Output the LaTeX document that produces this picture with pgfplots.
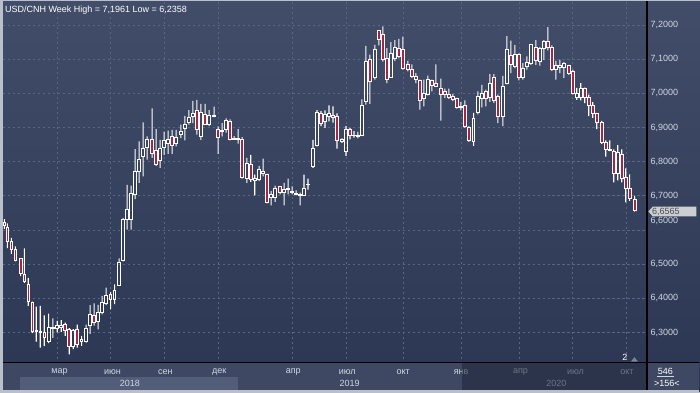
\documentclass[border=0pt]{standalone}
\usepackage{pgfplots}
\pgfplotsset{compat=1.18}
\usepackage{pgfplotstable}
\usepackage{fontspec}
\setmainfont{Liberation Sans}

\definecolor{bgtop}{RGB}{66,78,105}
\definecolor{bgbot}{RGB}{43,55,82}
\definecolor{gridc}{RGB}{88,102,132}
\definecolor{redc}{RGB}{168,36,68}
\definecolor{band}{RGB}{62,72,98}
\definecolor{band18}{RGB}{82,94,121}
\definecolor{lbl}{RGB}{208,215,228}
\definecolor{framec}{RGB}{185,192,204}
\definecolor{boxc}{RGB}{205,206,212}
\definecolor{dimc}{RGB}{28,36,56}

\pgfplotstableread{
x o h l c
4.3 6.622 6.632 6.603 6.612
7.3 6.606 6.619 6.547 6.567
11.3 6.565 6.577 6.530 6.542
15.3 6.542 6.552 6.508 6.511
20.7 6.516 6.516 6.465 6.473
24.3 6.470 6.546 6.445 6.450
28.3 6.440 6.460 6.378 6.390
32.3 6.387 6.390 6.298 6.302
36.3 6.304 6.376 6.273 6.305
40.3 6.304 6.378 6.256 6.300
44.3 6.300 6.350 6.261 6.285
48.7 6.273 6.355 6.269 6.316
53.0 6.313 6.341 6.284 6.315
57.3 6.313 6.334 6.300 6.320
61.3 6.316 6.336 6.302 6.322
65.3 6.323 6.329 6.290 6.305
69.3 6.308 6.313 6.2358 6.259
73.3 6.259 6.310 6.251 6.305
77.3 6.310 6.323 6.256 6.264
81.7 6.273 6.290 6.261 6.281
86.3 6.273 6.323 6.270 6.313
90.3 6.320 6.380 6.296 6.353
94.3 6.351 6.385 6.320 6.329
98.3 6.331 6.381 6.309 6.358
102.3 6.358 6.407 6.353 6.389
106.3 6.386 6.431 6.380 6.409
110.7 6.412 6.418 6.368 6.397
114.7 6.397 6.441 6.383 6.423
119.3 6.439 6.517 6.438 6.504
123.3 6.511 6.635 6.508 6.632
127.3 6.630 6.732 6.601 6.659
131.3 6.632 6.730 6.601 6.708
135.3 6.705 6.837 6.690 6.770
139.3 6.772 6.859 6.738 6.806
143.3 6.816 6.915 6.757 6.840
147.3 6.842 6.874 6.806 6.866
152.3 6.866 6.956 6.811 6.825
156.3 6.833 6.895 6.788 6.793
160.3 6.803 6.864 6.782 6.840
164.3 6.842 6.888 6.820 6.861
168.3 6.854 6.891 6.823 6.864
172.3 6.874 6.893 6.823 6.847
176.3 6.854 6.893 6.845 6.871
181.0 6.879 6.908 6.869 6.888
185.0 6.898 6.934 6.862 6.910
189.0 6.915 6.951 6.908 6.929
193.0 6.932 6.978 6.913 6.942
197.0 6.949 6.981 6.879 6.893
201.0 6.874 6.969 6.864 6.945
205.3 6.939 6.969 6.908 6.910
209.3 6.908 6.951 6.905 6.934
214.3 6.932 6.961 6.930 6.935
218.3 6.893 6.903 6.823 6.872
222.3 6.889 6.913 6.874 6.891
226.3 6.893 6.927 6.885 6.922
230.3 6.919 6.924 6.862 6.866
234.3 6.869 6.875 6.864 6.866
238.3 6.868 6.895 6.853 6.864
242.3 6.864 6.872 6.750 6.754
247.0 6.750 6.811 6.738 6.796
251.0 6.793 6.820 6.741 6.748
255.0 6.745 6.762 6.701 6.752
259.3 6.748 6.788 6.743 6.777
263.3 6.770 6.809 6.757 6.765
267.3 6.762 6.765 6.678 6.682
271.3 6.694 6.714 6.672 6.704
275.3 6.694 6.730 6.682 6.723
280.3 6.726 6.728 6.704 6.709
284.3 6.709 6.738 6.672 6.720
288.3 6.720 6.750 6.704 6.721
292.3 6.714 6.728 6.704 6.709
296.3 6.707 6.716 6.701 6.705
300.3 6.705 6.709 6.672 6.702
304.3 6.701 6.762 6.700 6.723
308.3 6.732 6.750 6.718 6.733
313.3 6.786 6.864 6.782 6.840
317.3 6.848 6.951 6.845 6.945
321.3 6.941 6.948 6.904 6.911
325.3 6.917 6.950 6.899 6.938
329.3 6.933 6.965 6.918 6.941
333.3 6.935 6.962 6.914 6.928
337.3 6.931 6.941 6.838 6.862
342.3 6.865 6.868 6.855 6.858
346.3 6.829 6.904 6.817 6.894
350.3 6.894 6.899 6.865 6.878
354.3 6.878 6.889 6.870 6.877
358.3 6.876 6.887 6.868 6.874
362.3 6.878 6.982 6.875 6.964
366.3 6.975 7.139 6.967 7.093
370.3 7.098 7.113 6.969 7.035
375.3 7.045 7.142 7.040 7.127
379.3 7.183 7.185 7.140 7.158
383.3 7.173 7.1961 7.093 7.098
387.3 7.103 7.132 7.030 7.040
391.3 7.047 7.150 7.045 7.117
395.3 7.103 7.156 7.095 7.134
399.3 7.132 7.159 7.103 7.108
403.3 7.129 7.166 7.069 7.072
408.3 7.085 7.095 7.064 7.069
412.3 7.069 7.085 7.045 7.050
416.3 7.050 7.059 7.030 7.040
420.3 7.037 7.040 6.952 6.979
424.3 6.986 7.040 6.962 7.000
428.3 6.998 7.052 6.994 7.040
432.3 7.038 7.040 7.006 7.023
436.3 7.028 7.085 7.020 7.021
441.3 7.014 7.043 6.920 6.998
445.3 7.004 7.014 6.986 6.996
449.3 6.998 7.014 6.984 6.989
453.3 6.990 6.998 6.977 6.983
457.3 6.985 6.987 6.955 6.959
461.3 6.962 6.975 6.950 6.959
465.3 6.965 6.979 6.899 6.904
469.3 6.899 6.904 6.858 6.862
474.0 6.858 6.943 6.846 6.926
478.3 6.943 7.006 6.938 6.991
482.3 6.986 7.025 6.959 7.001
486.3 7.006 7.011 6.962 6.986
490.3 6.988 7.056 6.975 7.030
494.3 7.045 7.056 6.972 6.979
498.3 6.991 6.996 6.913 6.933
503.3 6.931 7.051 6.904 7.020
507.3 7.028 7.167 7.026 7.128
511.3 7.111 7.154 7.059 7.085
515.3 7.079 7.142 7.074 7.113
519.3 7.113 7.117 7.038 7.045
523.3 7.045 7.088 7.040 7.074
527.3 7.079 7.108 7.069 7.090
531.3 7.088 7.142 7.083 7.142
536.3 7.135 7.156 7.083 7.096
540.3 7.093 7.135 7.081 7.130
544.3 7.132 7.156 7.098 7.151
548.3 7.153 7.194 7.126 7.133
552.3 7.135 7.140 7.066 7.069
556.3 7.069 7.095 7.040 7.083
560.3 7.077 7.098 7.059 7.083
564.3 7.077 7.091 7.045 7.086
569.3 7.082 7.083 7.054 7.059
573.3 7.064 7.069 6.996 7.001
577.3 6.988 7.016 6.981 7.001
581.3 6.988 7.030 6.979 7.013
585.3 7.013 7.017 6.971 6.988
589.3 6.989 6.996 6.933 6.964
593.3 6.965 6.974 6.928 6.940
597.3 6.941 6.943 6.895 6.914
602.3 6.914 6.919 6.852 6.856
606.3 6.855 6.862 6.815 6.835
610.3 6.834 6.862 6.831 6.836
614.3 6.831 6.836 6.739 6.765
618.3 6.766 6.848 6.745 6.826
622.3 6.821 6.836 6.739 6.751
626.3 6.753 6.780 6.681 6.722
630.3 6.722 6.763 6.685 6.693
635.3 6.690 6.700 6.654 6.6565
}\candles

\pgfplotsset{cstyle/.style={at={(0,0)}, anchor=south west, scale only axis,
  width=700bp, height=393bp, xmin=0, xmax=700, ymin=6.12398, ymax=7.27310,
  axis lines=none, ticks=none, clip=true}}

\newcommand\f{\fontsize{9bp}{10bp}\selectfont}

\begin{document}
\begin{tikzpicture}
% background
\begin{scope}[x=1bp,y=1bp]
\shade[top color=bgtop, bottom color=bgbot] (0,0) rectangle (700,393);
\end{scope}
% pixel coordinates: (px,py) with py downward
\begin{scope}[x=1bp,y=-1bp,yshift=393bp]
\foreach \yy in {25,59.2,93.4,127.6,161.8,196,230.2,264.4,298.6,332.8}
  \draw[gridc, line width=0.7bp, dash pattern=on 2.5bp off 2.5bp] (3,\yy) -- (647,\yy);
\foreach \xx in {57.3,110.7,164,218.3,292.7,346.7,403.3,461.7,520,572.7,626.7}
  \draw[gridc, line width=0.7bp, dash pattern=on 2.5bp off 2.5bp] (\xx,2) -- (\xx,362);
\foreach \yy/\t in {25/{7,2000},59.2/{7,1000},93.4/{7,0000},127.6/{6,9000},161.8/{6,8000},196/{6,7000},221/{6,6000},264.4/{6,5000},298.6/{6,4000},332.8/{6,3000}}
  \node[anchor=west, inner sep=0, text=lbl, font=\f] at (651,\yy) {\t};
\node[anchor=west, inner sep=0, text=white, font=\f] at (5,10) {USD/CNH Week High = 7,1961 Low = 6,2358};
\end{scope}

% wicks
\begin{axis}[cstyle, ybar stacked, bar width=1.05]
\addplot[draw=none, fill=none] table[x=x, y=l] {\candles};
\addplot[draw=none, fill=white] table[x=x, y expr={min(\thisrow{o},\thisrow{c})-\thisrow{l}}] {\candles};
\addplot[draw=none, fill=none] table[x=x, y expr={abs(\thisrow{o}-\thisrow{c})}] {\candles};
\addplot[draw=none, fill=white] table[x=x, y expr={\thisrow{h}-max(\thisrow{o},\thisrow{c})}] {\candles};
\end{axis}
% bodies
\begin{axis}[cstyle, ybar stacked, bar width=2.6]
\addplot[draw=none, fill=none] table[x=x, y expr={min(\thisrow{o},\thisrow{c})}] {\candles};
\addplot[draw=white, fill=none, line width=0.9bp] table[x=x, y expr={max(\thisrow{c}-\thisrow{o},0)}] {\candles};
\addplot[draw=white, fill=redc, line width=0.9bp] table[x=x, y expr={max(\thisrow{o}-\thisrow{c},0)}] {\candles};
\end{axis}

\begin{scope}[x=1bp,y=-1bp,yshift=393bp]
% frame
\fill[framec] (0,0) rectangle (3,393);
\fill[framec] (0,0) rectangle (700,1.2);
% bottom band
\fill[band] (3,363) rectangle (700,390);
\fill[band18] (20,377.5) rectangle (238,390);
\foreach \xx/\t in {59.5/мар,112.5/июн,165.5/сен,219.5/дек,293.5/апр,347.5/июл,403.5/окт,461.5/янв,521/апр,576/июл,627.5/окт}
  \node[inner sep=0, text=lbl, font=\f] at (\xx,372.5) {\t};
\foreach \xx/\t in {130/2018,350/2019,557/2020}
  \node[inner sep=0, text=lbl, font=\f] at (\xx,384) {\t};
\fill[dimc, opacity=0.55] (462,363) rectangle (647,390);
\fill[framec] (0,390) rectangle (700,393);
% separators
\draw[black, line width=1.3bp] (3,362.5) -- (700,362.5);
\draw[black, line width=1.3bp] (647.6,1.2) -- (647.6,390);
% marker
\node[inner sep=0, text=white, font=\f] at (625.5,358) {2};
\fill[gridc!80!white] (631.5,362) -- (635,357.5) -- (638.5,362) -- cycle;
% counters
\node[inner sep=0, text=white, font=\f] at (666,371.5) {546};
\draw[lbl, line width=0.5bp] (658,377) -- (675,377);
\node[inner sep=0, text=white, font=\f] at (667.5,384) {>156<};
% price box
\fill[boxc] (649,211.7) -- (653.5,206.7) -- (697,206.7) -- (697,216.7) -- (653.5,216.7) -- cycle;
\node[anchor=west, inner sep=0, text=black!70, font=\f] at (652.5,211.9) {6,6565};
\end{scope}
\end{tikzpicture}
\end{document}
